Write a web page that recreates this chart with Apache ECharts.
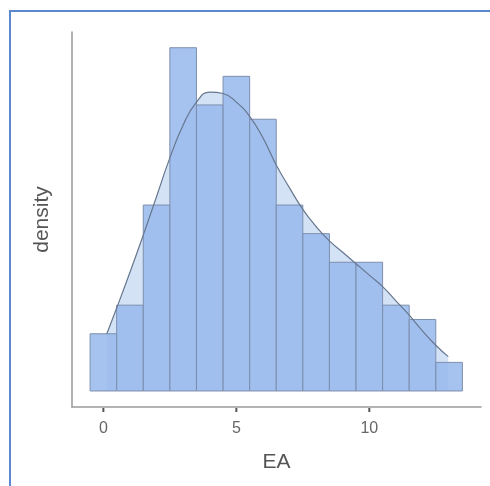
<!DOCTYPE html>
<html>
<head>
<meta charset="utf-8">
<script src="https://cdn.jsdelivr.net/npm/echarts@6/dist/echarts.min.js"></script>
<style>
  html, body { margin: 0; padding: 0; background: #fff; }
  #frame { position: absolute; left: 9px; top: 10px; width: 490px; height: 486px;
           border-top: 2px solid #5b89cf; border-left: 2px solid #5b89cf; }
  #chart { position: absolute; left: 0; top: 0; width: 490px; height: 486px; }
</style>
</head>
<body>
<div id="frame"></div>
<div id="chart"></div>
<script>
// Histogram bins (bin centres, width 1) and counts
const binCenters = [0, 1, 2, 3, 4, 5, 6, 7, 8, 9, 10, 11, 12, 13];
const binCounts  = [4, 6, 13, 24, 20, 22, 19, 13, 11, 9, 9, 6, 5, 2];
// Density curve (x, value in count-per-unit scale)
const curveX = [0.13, 0.5, 1.0, 1.5, 2.0, 2.5, 3.0, 3.5, 4.0, 4.5, 5.0, 5.5, 6.0, 6.5, 7.0, 7.5, 8.0, 8.5, 9.0, 9.5, 10.0, 10.5, 11.0, 11.5, 12.0, 12.5, 12.97];
const curveY = [4.0, 5.8, 8.3, 10.9, 13.6, 16.3, 18.6, 20.2, 20.9, 20.8, 20.2, 19.2, 17.7, 15.8, 14.2, 12.7, 11.5, 10.5, 9.7, 8.9, 8.1, 7.3, 6.3, 5.3, 4.2, 3.2, 2.4];
// Tick values on the x axis
const xTicks = [0, 5, 10];
const tickMin = 0, tickMax = 10, tickStep = 5;

const xMin = -1.18, xMax = 14.2;
const total = binCounts.reduce((a, b) => a + b, 0);
const yMin = -1.12 / total, yMax = 25.1 / total;
const barData = binCenters.map((c, i) => [c, binCounts[i] / total]);
const curveData = curveX.map((x, i) => [x, curveY[i] / total]);

// Layout of the main plot area
const gLeft = 72, gRight = 9, gTop = 32, gBottom = 79, W = 490;
const pxPerUnit = (W - gLeft - gRight) / (xMax - xMin);
const tickLeft = gLeft + (tickMin - xMin) * pxPerUnit;
const tickRight = W - (gLeft + (tickMax - xMin) * pxPerUnit);

const chart = echarts.init(document.getElementById('chart'), null, { renderer: 'canvas' });
const FONT = '"Liberation Sans", Arial, sans-serif';
chart.setOption({
  animation: false,
  backgroundColor: 'transparent',
  grid: [
    { left: gLeft, right: gRight, top: gTop, bottom: gBottom, containLabel: false },
    { left: tickLeft, right: tickRight, top: gTop, bottom: gBottom, containLabel: false }
  ],
  xAxis: [
    {
      gridIndex: 0, type: 'value', min: xMin, max: xMax,
      name: 'EA', nameLocation: 'middle', nameGap: 45,
      nameTextStyle: { color: '#555', fontSize: 21, fontFamily: FONT },
      axisLine: { show: true, onZero: false, lineStyle: { color: '#9a9a9a', width: 1.5 } },
      axisTick: { show: false },
      axisLabel: { show: false },
      splitLine: { show: false }
    },
    {
      gridIndex: 1, type: 'value', min: tickMin, max: tickMax, interval: tickStep,
      axisLine: { show: false, onZero: false },
      axisTick: { show: false },
      axisLabel: { margin: 14, color: '#666', fontSize: 16, fontFamily: FONT },
      splitLine: { show: false }
    }
  ],
  yAxis: [
    {
      gridIndex: 0, type: 'value', min: yMin, max: yMax,
      name: 'density', nameLocation: 'middle', nameGap: 19, nameRotate: 90,
      nameTextStyle: { color: '#555', fontSize: 21, fontFamily: FONT },
      axisLine: { show: true, onZero: false, lineStyle: { color: '#9a9a9a', width: 1.5 } },
      axisTick: { show: false },
      axisLabel: { show: false },
      splitLine: { show: false }
    },
    {
      gridIndex: 1, type: 'value', min: 0, max: 1,
      axisLine: { show: false }, axisTick: { show: false }, axisLabel: { show: false }, splitLine: { show: false }
    }
  ],
  series: [
    {
      type: 'line', data: curveData, smooth: 0.5, symbol: 'none', z: 1,
      lineStyle: { width: 0 },
      areaStyle: { color: '#d4e2f5', opacity: 1 }
    },
    {
      type: 'custom', data: barData, z: 2,
      renderItem: function (params, api) {
        const x = api.value(0), y = api.value(1);
        const p0 = api.coord([x - 0.5, 0]);
        const p1 = api.coord([x + 0.5, y]);
        return {
          type: 'rect',
          shape: { x: p0[0], y: p1[1], width: p1[0] - p0[0], height: p0[1] - p1[1] },
          style: { fill: 'rgba(150,185,236,0.85)', stroke: '#7d8fae', lineWidth: 1 }
        };
      }
    },
    {
      type: 'line', data: curveData, smooth: 0.5, symbol: 'none', z: 3,
      lineStyle: { color: '#66778f', width: 1.2 }
    },
    {
      // x-axis tick marks, positioned through the axis scale
      type: 'custom', data: xTicks.map(v => [v, yMin]), z: 4, clip: false, silent: true,
      renderItem: function (params, api) {
        const p = api.coord([api.value(0), api.value(1)]);
        return {
          type: 'line',
          shape: { x1: p[0], y1: p[1] + 1, x2: p[0], y2: p[1] + 5 },
          style: { stroke: '#555', lineWidth: 2 }
        };
      }
    }
  ]
});
</script>
</body>
</html>
